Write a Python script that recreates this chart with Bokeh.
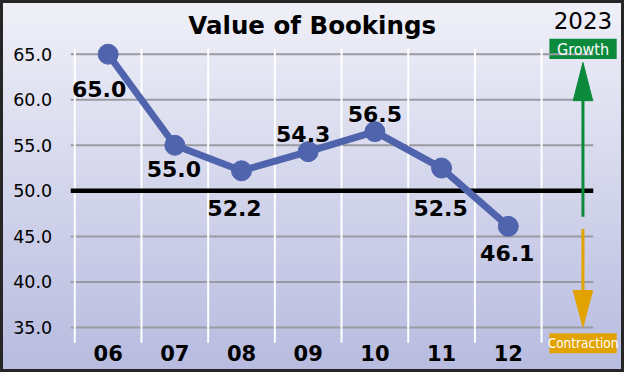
from bokeh.plotting import figure
from bokeh.models import ColumnDataSource
from bokeh.embed import file_html
from bokeh.resources import INLINE
from bokeh.core.properties import value

# ---- data ----
months = ["06", "07", "08", "09", "10", "11", "12"]
bookings = [65.0, 55.0, 52.2, 54.3, 56.5, 52.5, 46.1]
y_ticks = [35, 40, 45, 50, 55, 60, 65]
neutral_level = 50
title_text = "Value of Bookings"
year_text = "2023"
growth_text = "Growth"
contraction_text = "Contraction"

# ---- styling ----
label_dx = [-9, -1, -7, -5, 0, -1, -1]      # px offsets of value labels
label_dy = [35, 24, 37, -18, -18, 40, 27]
BLUE = "#4f64ad"
GREEN = "#0b8a3c"
ORANGE = "#e2a200"
GRID_GRAY = "#9a9aa2"
FONT = "DejaVu Sans"
COND = "DejaVu Sans Condensed"

# plot-area extents (data units) and whole-canvas ranges
X0, X1 = -0.561, 7.275          # plotting-area left / right
Y0, Y1 = 33.316, 65.632         # plotting-area bottom / top
XR = (-1.614, 7.743)
YR = (30.056, 70.895)

xs = list(range(len(months)))
src = ColumnDataSource(dict(
    x=xs, y=bookings, lab=[f"{v:.1f}" for v in bookings],
    dx=label_dx, dy=label_dy))

p = figure(width=624, height=372, output_backend="svg", toolbar_location=None,
           x_range=XR, y_range=YR, x_axis_location=None, y_axis_location=None,
           min_border=0, title=None)
p.styles = {"background": "linear-gradient(to bottom, #f0f0f8 0%, #b7bbdf 100%)",
            "box-shadow": "inset 0 0 0 3px #262626"}
p.background_fill_alpha = 0
p.border_fill_alpha = 0
p.outline_line_color = None
p.grid.visible = False

# ---- indicator boxes (behind grid lines, like the reference) ----
box_l, box_r = 6.617, 7.626
p.quad(left=[box_l], right=[box_r], top=[66.684], bottom=[64.474],
       fill_color=GREEN, line_color=None)
p.quad(left=[box_l], right=[box_r], top=[34.368], bottom=[32.158],
       fill_color=ORANGE, line_color=None)

# ---- grid ----
minor_ticks = [t for t in y_ticks if t != neutral_level]
p.segment(x0=[X0] * len(minor_ticks), x1=[X1] * len(minor_ticks),
          y0=minor_ticks, y1=minor_ticks, line_color=GRID_GRAY, line_width=2)
bounds = [i - 0.5 for i in range(len(months) + 1)]
p.segment(x0=bounds, x1=bounds, y0=[Y0] * len(bounds), y1=[Y1] * len(bounds),
          line_color="white", line_width=2)
p.segment(x0=[X0], x1=[X1], y0=[neutral_level], y1=[neutral_level],
          line_color="black", line_width=4.5)

# ---- axis tick labels (through the scales) ----
p.text(x=[-0.839] * len(y_ticks), y=y_ticks, text=[f"{t:.1f}" for t in y_ticks],
       text_align="right", text_baseline="middle", text_font=value(FONT),
       text_font_size="17.5px", text_color="black")
p.text(x=xs, y=[32.21] * len(xs), text=months,
       text_align="center", text_baseline="middle", text_font=value(FONT),
       text_font_style="bold", text_font_size="21px", text_color="black")

# ---- series ----
p.line("x", "y", source=src, line_color=BLUE, line_width=7)
p.scatter("x", "y", source=src, size=20, fill_color=BLUE, line_color=BLUE)
p.text("x", "y", text="lab", source=src, x_offset="dx", y_offset="dy",
       text_align="center", text_baseline="middle", text_font=value(FONT),
       text_font_style="bold", text_font_size="22px", text_color="black")

# ---- title ----
p.text(x=[3.06], y=[68.2], text=[title_text], text_align="center",
       text_baseline="middle", text_font=value(FONT), text_font_style="bold",
       text_font_size="24.5px", text_color="black")

# ---- growth / contraction indicator ----
ax_x = 7.12
hw = 0.146
p.segment(x0=[ax_x], y0=[47.16], x1=[ax_x], y1=[60.0], line_color=GREEN, line_width=3)
p.patch(x=[ax_x - hw, ax_x + hw, ax_x], y=[59.9, 59.9, 64.1],
        fill_color=GREEN, line_color=GREEN)
p.segment(x0=[ax_x], y0=[45.8], x1=[ax_x], y1=[39.0], line_color=ORANGE, line_width=3)
p.patch(x=[ax_x - hw, ax_x + hw, ax_x], y=[39.05, 39.05, 35.05],
        fill_color=ORANGE, line_color=ORANGE)

p.text(x=[ax_x], y=[68.74], text=[year_text], text_align="center",
       text_baseline="middle", text_font=value(FONT), text_font_size="23px",
       text_color="black")
p.text(x=[(box_l + box_r) / 2], y=[65.55], text=[growth_text], text_align="center",
       text_baseline="middle", text_font=value(COND), text_font_size="16px",
       text_color="white")
p.text(x=[(box_l + box_r) / 2], y=[33.24], text=[contraction_text], text_align="center",
       text_baseline="middle", text_font=value(COND), text_font_size="13.5px",
       text_color="white")

open("out.html", "w").write(file_html(p, INLINE))
